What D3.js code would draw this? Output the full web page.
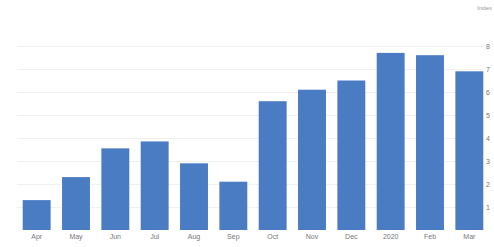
<!DOCTYPE html>
<meta charset="utf-8">
<title>Monthly bars</title>
<style>
body { margin: 0; background: #fff; }
svg { display: block; font-family: "Liberation Sans", Arial, sans-serif; }
.grid line { stroke: #f0f0f0; shape-rendering: crispEdges; }
.grid path { display: none; }
.yax text, .xax text { fill: #777; font-size: 7px; }
.yax path, .yax line, .xax path, .xax line { display: none; }
</style>
<body>
<svg width="494" height="247"></svg>
<script src="https://d3js.org/d3.v7.min.js"></script>
<script>

var months = ["Apr", "May", "Jun", "Jul", "Aug", "Sep", "Oct", "Nov", "Dec", "2020", "Feb", "Mar"];
var values = [1.3, 2.3, 3.55, 3.85, 2.9, 2.1, 5.6, 6.1, 6.5, 7.7, 7.6, 6.9];
var yTicks = [1, 2, 3, 4, 5, 6, 7, 8];

var svg = d3.select("svg");

var x = d3.scaleBand()
    .domain(months)
    .range([17, 489])
    .paddingInner(0.29)
    .paddingOuter(0.145);

var y = d3.scaleLinear()
    .domain([0, 8])
    .range([230, 46]);

// faint horizontal grid
svg.append("g")
    .attr("class", "grid")
    .attr("transform", "translate(17,0)")
    .call(d3.axisRight(y).tickValues(yTicks).tickSize(466).tickFormat(""));

svg.selectAll(".bar")
    .data(values)
  .enter().append("rect")
    .attr("class", "bar")
    .attr("x", function(d, i) { return x(months[i]); })
    .attr("y", function(d) { return y(d); })
    .attr("width", x.bandwidth())
    .attr("height", function(d) { return y(0) - y(d); })
    .style("fill", "#4a7cc4");

svg.append("g")
    .attr("class", "yax")
    .attr("transform", "translate(484,0)")
    .call(d3.axisRight(y).tickValues(yTicks).tickSize(0).tickPadding(2));

svg.append("g")
    .attr("class", "xax")
    .attr("transform", "translate(0,231)")
    .call(d3.axisBottom(x).tickSize(0).tickPadding(3));

svg.append("text")
    .attr("x", 492)
    .attr("y", 10)
    .attr("text-anchor", "end")
    .style("fill", "#999")
    .style("font-size", "6px")
    .text("Index");

</script>
</body>
